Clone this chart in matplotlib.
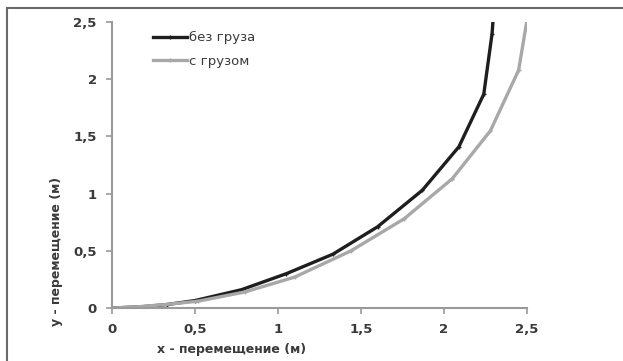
import matplotlib
matplotlib.use("Agg")
import matplotlib.pyplot as plt
from matplotlib.ticker import FuncFormatter

# траектории: без груза и с грузом
x_bez = [0, 0.05, 0.17, 0.33, 0.5, 0.78, 1.05, 1.33, 1.6, 1.87, 2.09, 2.24, 2.29, 2.30]
y_bez = [0, 0.003, 0.01, 0.03, 0.065, 0.16, 0.30, 0.47, 0.71, 1.03, 1.41, 1.87, 2.40, 2.60]

x_gruz = [0, 0.05, 0.15, 0.32, 0.52, 0.8, 1.1, 1.44, 1.76, 2.05, 2.28, 2.45, 2.51]
y_gruz = [0, 0.003, 0.01, 0.03, 0.06, 0.14, 0.27, 0.50, 0.78, 1.13, 1.55, 2.08, 2.60]

ticks = [0, 0.5, 1, 1.5, 2, 2.5]

txt = "#3a3a3a"
axis_col = "#9a9a9a"

fig = plt.figure(figsize=(6.23, 3.61), dpi=100)
ax = fig.add_axes([0.1798, 0.1468, 0.666, 0.792])

ax.plot(x_bez, y_bez, color="#1e1e1e", lw=2.4, marker="+", ms=3, mew=1, label="без груза")
ax.plot(x_gruz, y_gruz, color="#a8a8a8", lw=2.4, marker="+", ms=3, mew=1, label="с грузом")

ax.set_xlim(0, 2.5)
ax.set_ylim(0, 2.5)
ax.set_xticks(ticks)
ax.set_yticks(ticks)
fmt = FuncFormatter(lambda v, p: ("%g" % v).replace(".", ","))
ax.xaxis.set_major_formatter(fmt)
ax.yaxis.set_major_formatter(fmt)

for s in ["top", "right"]:
    ax.spines[s].set_visible(False)
for s in ["left", "bottom"]:
    ax.spines[s].set_color(axis_col)
    ax.spines[s].set_linewidth(1.5)
ax.tick_params(colors=axis_col, width=1.2, length=4, labelcolor=txt, labelsize=9.5, pad=7)
for lab in ax.get_xticklabels() + ax.get_yticklabels():
    lab.set_fontweight("bold")

leg = ax.legend(loc="upper left", bbox_to_anchor=(0.07, 1.01), frameon=False,
                handlelength=2.6, handletextpad=0.1, labelspacing=0.8, fontsize=9.5)
for t in leg.get_texts():
    t.set_color(txt)

fig.text(232 / 623, 1 - 350 / 361, "x - перемещение (м)", ha="center", va="center",
         fontsize=9, fontweight="bold", color=txt)
fig.text(57 / 623, 1 - 251 / 361, "y - перемещение (м)", ha="center", va="center",
         rotation=90, fontsize=9, fontweight="bold", color=txt)

# рамка сверху и слева
fig.add_artist(plt.Line2D([7 / 623, 1], [1 - 8 / 361] * 2, color="#6a6a6a", lw=1.5))
fig.add_artist(plt.Line2D([7 / 623] * 2, [0, 1 - 8 / 361], color="#6a6a6a", lw=1.5))

fig.savefig("out.png", dpi=100)
